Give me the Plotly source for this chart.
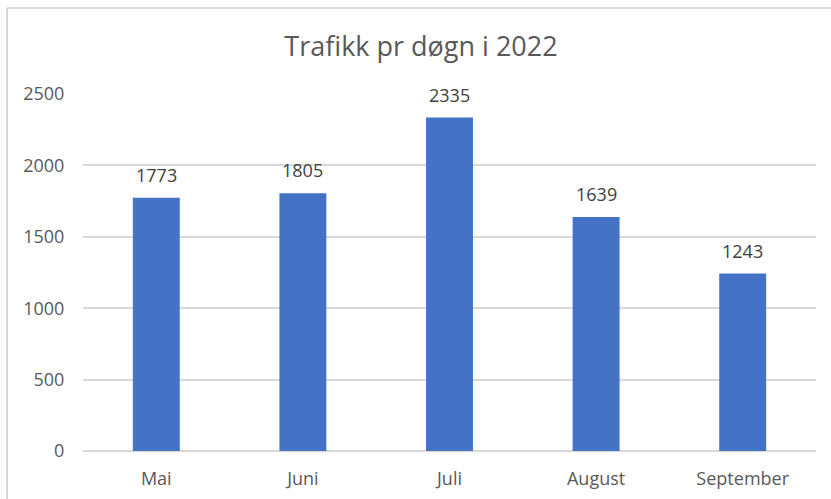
import plotly.graph_objects as go

# Average daily traffic per month, 2022
months = ["Mai", "Juni", "Juli", "August", "September"]
traffic = [1773, 1805, 2335, 1639, 1243]
y_ticks = [0, 500, 1000, 1500, 2000, 2500]

BAR_BLUE = "#4472C4"
TEXT_GREY = "#595959"
GRID_GREY = "#D9D9D9"
FONT = "Open Sans"

fig = go.Figure(
    go.Bar(
        x=months,
        y=traffic,
        marker=dict(color=BAR_BLUE, line=dict(width=0)),
        width=0.32,
        hoverinfo="x+y",
    )
)

# value labels above each bar
for m, v in zip(months, traffic):
    fig.add_annotation(
        x=m, y=v, text=str(v), showarrow=False,
        yanchor="bottom", yshift=9,
        font=dict(family=FONT, size=18, color="#404040"),
    )

W, H = 831, 499
ml, mr, mt, mb = 83, 15, 94, 48
pw, ph = W - ml - mr, H - mt - mb

# chart frame (left and top edges)
fx = (7 - ml) / pw
fy = 1 + (mt - 8) / ph
fig.add_shape(type="line", xref="paper", yref="paper",
              x0=fx, x1=fx, y0=-0.2, y1=fy,
              line=dict(color="#D9D9D9", width=2))
fig.add_shape(type="line", xref="paper", yref="paper",
              x0=fx, x1=1.2, y0=fy, y1=fy,
              line=dict(color="#D9D9D9", width=2))

fig.update_layout(
    width=W, height=H,
    margin=dict(l=ml, r=mr, t=mt, b=mb, autoexpand=False),
    paper_bgcolor="white",
    plot_bgcolor="white",
    showlegend=False,
    title=dict(
        text="Trafikk pr døgn i 2022",
        x=421 / W, xref="container", xanchor="center",
        y=1 - 47 / H, yanchor="middle",
        font=dict(family=FONT, size=27, color=TEXT_GREY),
    ),
    font=dict(family=FONT, color=TEXT_GREY),
)

fig.update_xaxes(
    type="category",
    automargin=False,
    showgrid=False,
    showline=False,
    zeroline=False,
    ticks="outside", ticklen=11, tickcolor="rgba(0,0,0,0)",
    tickfont=dict(family=FONT, size=18, color=TEXT_GREY),
)
fig.update_yaxes(
    range=[0, 2500],
    automargin=False,
    tickvals=y_ticks,
    showgrid=True, gridcolor=GRID_GREY, gridwidth=1.5,
    zeroline=True, zerolinecolor=GRID_GREY, zerolinewidth=1.5,
    showline=False,
    ticks="outside", ticklen=14, tickcolor="rgba(0,0,0,0)",
    tickfont=dict(family=FONT, size=18, color=TEXT_GREY),
)

fig.write_html("out.html")
